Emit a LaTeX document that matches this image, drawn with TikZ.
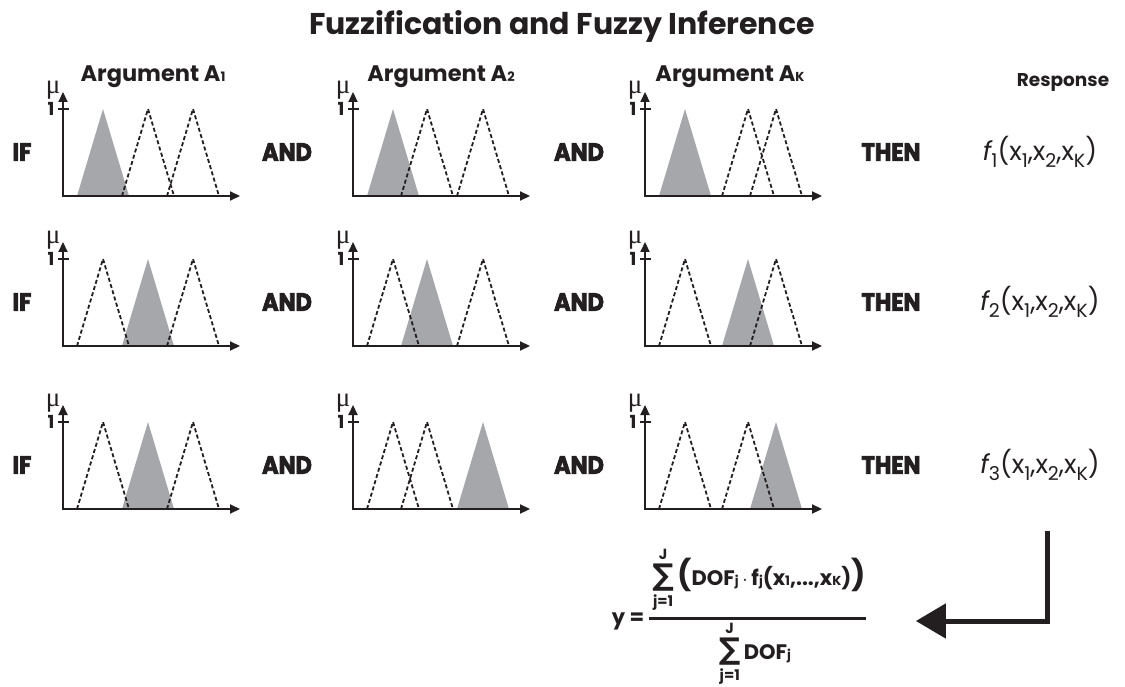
\documentclass[tikz,border=0pt]{standalone}
\usepackage{amsmath}
\usepackage{fontspec}
\setmainfont{Poppins}
\newfontfamily\heavyfont{Poppins}[BoldFeatures={FakeBold=3}, FakeStretch=0.9]
\newfontfamily\sumfont{DejaVu Sans}
\newfontfamily\greekfont{Liberation Serif}
\usetikzlibrary{arrows.meta, positioning}

\definecolor{mfgray}{RGB}{166,167,171}
\definecolor{ink}{RGB}{35,31,32}

\tikzset{
  mfaxis/.style={line width=2.2pt, {Triangle[length=10pt,width=9pt]}-{Triangle[length=10pt,width=9pt]}},
  mftick/.style={line width=2.2pt},
  mfdash/.style={line width=1.8pt, dash pattern=on 4pt off 2.5pt},
  mffill/.style={fill=mfgray},
  mulabel/.style={inner sep=0pt, font=\greekfont\fontsize{27}{27}\selectfont},
  onelabel/.style={inner sep=0pt, font=\bfseries\fontsize{18}{18}\selectfont},
  titletext/.style={inner sep=0pt, anchor=base, font=\bfseries\fontsize{30}{32}\selectfont},
  headtext/.style={inner sep=0pt, anchor=base, font=\bfseries\fontsize{22.5}{24}\selectfont},
  resphead/.style={inner sep=0pt, anchor=base, font=\bfseries\fontsize{18.5}{20}\selectfont},
  rulelabel/.style={inner sep=0pt, font=\heavyfont\bfseries\fontsize{25}{26}\selectfont},
  resptext/.style={inner sep=0pt, font=\fontsize{26}{28}\selectfont},
  formulatext/.style={inner sep=0pt, font=\bfseries\fontsize{21}{24}\selectfont},
  fracbar/.style={line width=3pt},
  bigarrow/.style={line width=5pt, -{Triangle[length=30pt,width=34pt]}}
}

% small index letters of the headers and the formula
\newcommand{\idx}[1]{{\fontsize{13}{13}\selectfont #1}}
\newcommand{\low}[1]{\raisebox{-0.28em}{\fontsize{19}{19}\selectfont #1}}
\newcommand{\bigsum}{\mathop{\text{\sumfont\bfseries\fontsize{30}{30}\selectfont ∑}}\limits}
\newcommand{\bigpar}[1]{\text{\fontsize{30}{30}\selectfont #1}}

% one membership plot: x0, baseline, peak of the grey set, peaks of the dashed sets
\newcommand{\mfplot}[4]{%
  \fill[mffill] (#1+#3-26,#2) -- (#1+#3,#2-87) -- (#1+#3+26,#2) -- cycle;
  \draw[mfaxis] (#1,#2-104) -- (#1,#2) -- (#1+177,#2);
  \draw[mftick] (#1-5,#2-87) -- (#1+6,#2-87);
  \node[mulabel] at (#1-10,#2-106) {μ};
  \node[onelabel] at (#1-12,#2-87) {1};
  \foreach \p in {#4}
    \draw[mfdash] (#1+\p-26,#2) -- (#1+\p,#2-87) -- (#1+\p+26,#2) -- cycle;
}

\begin{document}
\begin{tikzpicture}[x=1pt, y=-1pt, color=ink]
  \useasboundingbox (0,0) rectangle (1125,687);

  \node[titletext] (title) at (562,35) {Fuzzification and Fuzzy Inference};

  \node[headtext] (argA1) at (153,82) {Argument A\idx{1}};
  \node[headtext] (argA2) at (441,82) {Argument A\idx{2}};
  \node[headtext] (argAK) at (730,82) {Argument A\idx{K}};
  \node[resphead] (resp) at (1063,87) {Response};

  % membership functions
  \mfplot{63}{196}{40}{85,130}
  \mfplot{353}{196}{40}{74,130}
  \mfplot{645}{196}{40}{103,131}
  \mfplot{63}{346}{85}{40,130}
  \mfplot{353}{346}{74}{40,130}
  \mfplot{645}{346}{103}{40,131}
  \mfplot{63}{509}{85}{40,130}
  \mfplot{353}{509}{130}{40,74}
  \mfplot{645}{509}{131}{40,103}

  % rule words
  \foreach \r/\yb in {1/196, 2/346, 3/509} {
    \node[rulelabel] (if\r) at (22,\yb-44) {IF};
    \node[rulelabel] (andA\r) at (287,\yb-44) {AND};
    \node[rulelabel] (andB\r) at (579,\yb-44) {AND};
    \node[rulelabel] (then\r) at (891,\yb-44) {THEN};
    \node[resptext] (f\r) at (1040,\yb-44)
      {{\itshape f}\low{\r}(x\low{1},x\low{2},x\low{K})};
  }

  % defuzzification
  \node[formulatext] (yeq) at (628,621) {y =};
  \node[formulatext] (num) at (759,580)
    {$\displaystyle\bigsum_{\text{j=1}}^{\text{J}}\bigpar{(}\text{DOF\idx{j}\,$\cdot$\,f\idx{j}(x\idx{1},...,x\idx{K})}\bigpar{)}$};
  \node[formulatext] (den) at (755,654)
    {$\displaystyle\bigsum_{\text{j=1}}^{\text{J}}\text{DOF\idx{j}}$};
  \draw[fracbar] (649,618) -- (866,618);

  \coordinate (corner) at (1047,621);
  \draw[bigarrow, shorten <=50pt, shorten >=50pt] (f3.south -| corner) -- (corner) -- (corner -| num.east);
\end{tikzpicture}
\end{document}
